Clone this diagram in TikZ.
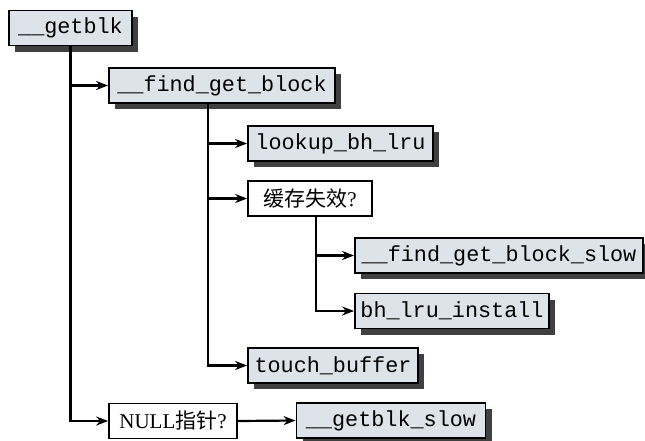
\documentclass[tikz,border=0pt]{standalone}
\usepackage{fontspec}
\setmainfont{Liberation Serif}
\newfontfamily\mono{Liberation Mono}
\newfontfamily\cjk{Noto Sans CJK SC}
\usetikzlibrary{shadows,arrows.meta,calc}
\definecolor{boxfill}{RGB}{221,227,232}
\definecolor{shadowc}{RGB}{64,64,64}
\tikzset{
  fn/.style={draw=black, line width=1.8pt, fill=boxfill, font=\mono\fontsize{21.8}{24}\selectfont,
    inner sep=0pt, minimum height=35pt,
    drop shadow={shadow xshift=6pt, shadow yshift=-6pt, fill=shadowc, opacity=1}},
  cond/.style={draw=black, line width=1.7pt, fill=white, font=\fontsize{21}{24}\selectfont,
    inner sep=0pt, minimum height=35pt},
  arr/.style={line width=2.2pt, -{Stealth[length=12pt,width=9pt]}},
}
\begin{document}
\begin{tikzpicture}[x=1pt,y=-1pt]
\useasboundingbox (0,0) rectangle (645,440);
\node[fn, minimum width=123pt] (getblk) at (70.5,28) {\_\_getblk};
\node[fn, minimum width=226pt] (fgb) at (222,85.5) {\_\_find\_get\_block};
\node[fn, minimum width=185pt] (lookup) at (340.5,143.5) {lookup\_bh\_lru};
\node[cond, minimum width=124pt] (miss) at (310,198.5) {{\cjk 缓存失效}?};
\node[fn, minimum width=288pt] (fgbs) at (499,255.5) {\_\_find\_get\_block\_slow};
\node[fn, minimum width=194pt] (install) at (452,311) {bh\_lru\_install};
\node[fn, minimum width=170pt] (touch) at (333,365.5) {touch\_buffer};
\node[cond, minimum width=128pt] (null) at (173,421) {NULL{\cjk 指针}?};
\node[fn, minimum width=189pt] (slow) at (391,420.5) {\_\_getblk\_slow};
\coordinate (fgbo) at ([xshift=100pt]fgb.south west);
\coordinate (misso) at ([xshift=69pt]miss.south west);
\draw[arr] (getblk.south) |- (null.west);
\draw[arr] (getblk.south |- fgb.west) -- (fgb.west);
\draw[arr] (fgbo) |- (touch.west);
\draw[arr] (fgbo |- lookup.west) -- (lookup.west);
\draw[arr] (fgbo |- miss.west) -- (miss.west);
\draw[arr] (misso) |- (install.west);
\draw[arr] (misso |- fgbs.west) -- (fgbs.west);
\draw[arr] (null.east) -- (slow.west);
\end{tikzpicture}
\end{document}
